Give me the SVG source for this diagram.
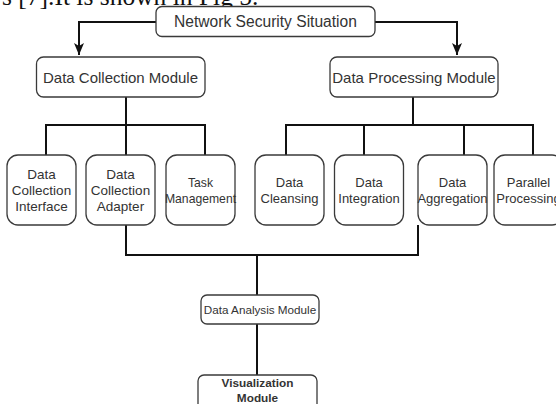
<svg xmlns="http://www.w3.org/2000/svg" width="556" height="404" viewBox="0 0 556 404">
<defs>
<style>
.box{fill:#fff;stroke:#3a3a3a;stroke-width:1.3}
.t{font-family:"Liberation Sans",Arial,sans-serif;fill:#333;text-anchor:middle}
.c{fill:none;stroke:#111;stroke-width:2}
.cap{font-family:"Liberation Serif","Times New Roman",serif;fill:#111}
</style>
<marker id="arr" viewBox="0 0 12 10" refX="12" refY="5" markerWidth="12" markerHeight="10" markerUnits="userSpaceOnUse" orient="auto">
<path d="M0,0 L12,5 L0,10 L3,5 z" fill="#111"/>
</marker>
</defs>
<rect width="556" height="404" fill="#fff"/>
<text class="cap" x="2" y="5" font-size="25.5">s [7].It is shown in Fig 5.</text>

<g id="connectors">
<path class="c" d="M156 22 H79 V55" marker-end="url(#arr)"/>
<path class="c" d="M375 22 H457 V55" marker-end="url(#arr)"/>
<path class="c" d="M126 97 V125 M46 125 H205 M46 124 V155 M126 125 V155 M205 124 V155"/>
<path class="c" d="M413 97 V125 M286 125 H533 M286 124 V155 M364 125 V155 M464 125 V155 M533 124 V155"/>
<path class="c" d="M126 225 V255 H418 V225 M257 255 V295 M257 324 V375"/>
</g>

<g id="nss">
<rect class="box" x="156" y="6.5" width="219" height="30" rx="6"/>
<text class="t" x="265.5" y="27" font-size="15.6">Network Security Situation</text>
</g>
<g id="dcm">
<rect class="box" x="36.5" y="57" width="168.5" height="40" rx="7"/>
<text class="t" x="120.5" y="82.5" font-size="15">Data Collection Module</text>
</g>
<g id="dpm">
<rect class="box" x="330" y="57" width="168" height="40" rx="7"/>
<text class="t" x="414" y="82.5" font-size="15">Data Processing Module</text>
</g>

<g id="dci">
<rect class="box" x="7" y="155" width="69" height="70" rx="11"/>
<text class="t" x="41.5" font-size="13.5"><tspan x="41.5" y="179">Data</tspan><tspan x="41.5" y="195">Collection</tspan><tspan x="41.5" y="211">Interface</tspan></text>
</g>
<g id="dca">
<rect class="box" x="86" y="155" width="69" height="70" rx="11"/>
<text class="t" x="120.5" font-size="13.5"><tspan x="120.5" y="179">Data</tspan><tspan x="120.5" y="195">Collection</tspan><tspan x="120.5" y="211">Adapter</tspan></text>
</g>
<g id="tm">
<rect class="box" x="166" y="155" width="69" height="70" rx="11"/>
<text class="t" font-size="12.2"><tspan x="200.5" y="186.5">Task</tspan><tspan x="200.5" y="202.5">Management</tspan></text>
</g>
<g id="dcl">
<rect class="box" x="255" y="155" width="69" height="70" rx="11"/>
<text class="t" font-size="13"><tspan x="289.5" y="187">Data</tspan><tspan x="289.5" y="203">Cleansing</tspan></text>
</g>
<g id="di">
<rect class="box" x="334.5" y="155" width="69" height="70" rx="11"/>
<text class="t" font-size="13"><tspan x="369" y="187">Data</tspan><tspan x="369" y="203">Integration</tspan></text>
</g>
<g id="da">
<rect class="box" x="418" y="155" width="69" height="70" rx="11"/>
<text class="t" font-size="13"><tspan x="452.5" y="187">Data</tspan><tspan x="452.5" y="203">Aggregation</tspan></text>
</g>
<g id="pp">
<rect class="box" x="494" y="155" width="69" height="70" rx="11"/>
<text class="t" font-size="13"><tspan x="528.5" y="187">Parallel</tspan><tspan x="528.5" y="203">Processing</tspan></text>
</g>

<g id="dam">
<rect class="box" x="201" y="295" width="118" height="29" rx="6"/>
<text class="t" x="260" y="314" font-size="11.7">Data Analysis Module</text>
</g>
<g id="vm">
<rect class="box" x="198" y="375" width="119" height="36" rx="6"/>
<text class="t" font-size="11.8" font-weight="bold"><tspan x="257.5" y="386.5">Visualization</tspan><tspan x="257.5" y="401.5">Module</tspan></text>
</g>
</svg>
